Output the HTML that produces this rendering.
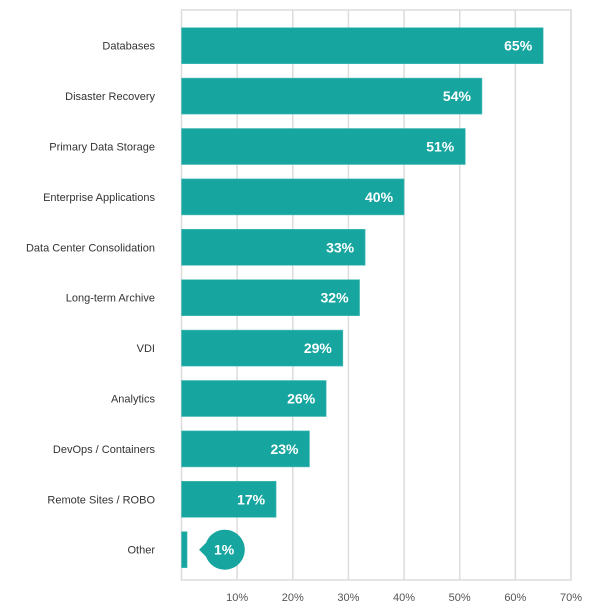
<!DOCTYPE html>
<html><head><meta charset="utf-8"><style>
html,body{margin:0;padding:0;background:#fff;}
svg{display:block;font-family:"Liberation Sans",sans-serif;}
</style></head><body>
<svg id="chart" width="602" height="612" viewBox="0 0 602 612" xmlns="http://www.w3.org/2000/svg"></svg>
<script>
const categories=["Databases","Disaster Recovery","Primary Data Storage","Enterprise Applications","Data Center Consolidation","Long-term Archive","VDI","Analytics","DevOps / Containers","Remote Sites / ROBO","Other"];
const values=[65,54,51,40,33,32,29,26,23,17,1];
const ticks=[10,20,30,40,50,60,70];
const tickLabels=["10%","20%","30%","40%","50%","60%","70%"];

const svgEl=document.getElementById('chart');
const NS="http://www.w3.org/2000/svg";
const x0=181.5,pxPer=5.564,plotTop=10,plotBottom=580,barTop=27.7,pitch=50.4,barH=36;
const xs=v=>x0+v*pxPer;
const yb=i=>barTop+i*pitch;
function mk(tag,attrs,parent){const e=document.createElementNS(NS,tag);for(const k in attrs)e.setAttribute(k,attrs[k]);(parent||svgEl).appendChild(e);return e;}

const grid=mk('g',{});


ticks.forEach((t,i)=>{
  const l=mk('line',{x1:xs(t),x2:xs(t),y1:plotTop,y2:plotBottom,stroke:'#dcdcdc','stroke-width':1.5},grid);
  
  
  const tx=mk('text',{x:xs(t),y:601,'text-anchor':'middle','font-size':11,fill:'#555'});
  tx.textContent=tickLabels[i];
  
  
});
const frame=mk('rect',{x:x0,y:plotTop,width:xs(70)-x0,height:plotBottom-plotTop,fill:'none',stroke:'#dcdcdc','stroke-width':1.5});



categories.forEach((c,i)=>{
  const y=yb(i),v=values[i];
  const r=mk('rect',{x:x0,y:y,width:xs(v)-x0,height:barH,fill:'#17a5a0',stroke:'#4dbdb8','stroke-width':0.6});
  
  
  const lb=mk('text',{x:155,y:y+barH/2+4,'text-anchor':'end','font-size':11,fill:'#333'});
  lb.textContent=c;
  
  
  if(xs(v)-x0>50){
    const t=mk('text',{x:xs(v)-11,y:y+barH/2+5,'text-anchor':'end','font-size':14,'font-weight':'bold',fill:'#fff'});
    t.textContent=v+'%';
    
    
  }else{
    const cx=xs(v)+37,cy=y+barH/2;
    const b=mk('path',{d:`M${cx-25} ${cy} L${cx-18} ${cy-7} A20 20 0 1 1 ${cx-18} ${cy+7} Z`,fill:'#17a5a0'});
    
    
    const t=mk('text',{x:cx,y:cy+5,'text-anchor':'middle','font-size':14,'font-weight':'bold',fill:'#fff'});
    t.textContent=v+'%';
    
    
  }
});
</script>
</body></html>
